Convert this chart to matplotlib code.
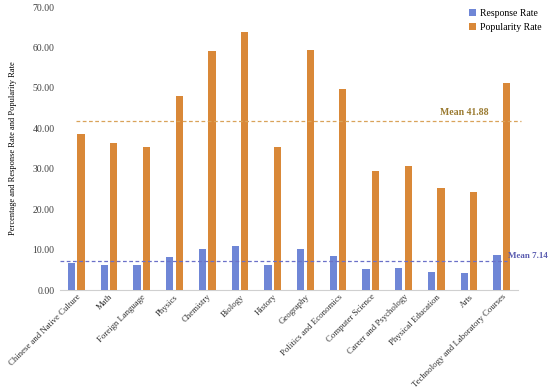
import numpy as np
import matplotlib
matplotlib.use('Agg')
import matplotlib.pyplot as plt

subjects = ['Chinese and Native Culture', 'Math', 'Foreign Language', 'Physics',
            'Chemistry', 'Biology', 'History', 'Geography', 'Politics and Economics',
            'Computer Science', 'Career and Psychology', 'Physical Education', 'Arts',
            'Technology and Laboratory Courses']
response_rate = [6.7, 6.3, 6.1, 8.2, 10.1, 10.8, 6.1, 10.1, 8.4, 5.2, 5.4, 4.4, 4.2, 8.7]
popularity_rate = [38.5, 36.3, 35.5, 47.9, 59.2, 63.8, 35.4, 59.3, 49.7, 29.5, 30.8,
                   25.3, 24.3, 51.3]
mean_response = 7.14
mean_popularity = 41.88
y_ticks = [0, 10, 20, 30, 40, 50, 60, 70]

plt.rcParams['font.family'] = ['Liberation Serif', 'DejaVu Serif']

fig = plt.figure(figsize=(5.5, 3.9), dpi=100)
ax = fig.add_axes([0.109, 0.256, 0.833, 0.726])

x = np.arange(len(subjects))
w = 0.22
ax.bar(x - 0.145, response_rate, width=w, color='#6f86d6', label='Response Rate', zorder=3)
ax.bar(x + 0.145, popularity_rate, width=w, color='#d98838', label='Popularity Rate', zorder=3)

# mean lines
ax.plot([0.0, 13.6], [mean_popularity, mean_popularity], ls=(0, (3, 2)), lw=0.9,
        color='#d9a35a', zorder=4, clip_on=False)
ax.text(12.6, mean_popularity + 1.0, f'Mean {mean_popularity:.2f}', ha='right', va='bottom',
        fontsize=7, fontweight='bold', color='#9a7a30')
ax.plot([-0.5, 13.15], [mean_response, mean_response], ls=(0, (3, 2)), lw=0.9,
        color='#6a70c8', zorder=4, clip_on=False)
ax.text(13.2, mean_response + 0.4, f'Mean {mean_response:.2f}', ha='left', va='bottom',
        fontsize=6.5, fontweight='bold', color='#5a5cb0')

ax.set_xlim(-0.5, 13.5)
ax.set_ylim(0, 70)
ax.set_yticks(y_ticks)
ax.set_yticklabels([f'{v:.2f}' for v in y_ticks], fontsize=7, color='#404040')
ax.set_xticks(x)
ax.set_xticklabels(subjects, rotation=45, ha='right', rotation_mode='anchor', fontsize=6.3,
                   color='#303030')
ax.tick_params(axis='both', length=0, pad=4)
ax.tick_params(axis='x', pad=2)
ax.set_ylabel('Percentage and Response Rate and Popularity Rate', fontsize=6, labelpad=11)

for s in ['top', 'right', 'left']:
    ax.spines[s].set_visible(False)
ax.spines['bottom'].set_color('#d0d0d0')

fig.legend(loc='upper right', bbox_to_anchor=(1.0, 1.0), frameon=False, fontsize=7,
           handlelength=0.7, handleheight=0.7, handletextpad=0.4, labelspacing=0.5)

fig.savefig('out.png', dpi=100)
